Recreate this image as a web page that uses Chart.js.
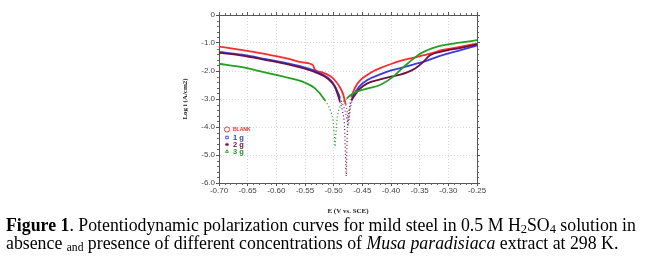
<!DOCTYPE html>
<html lang="en">

<head>
    <meta charset="UTF-8">
    <title>Figure 1</title>
    <script src="https://cdn.jsdelivr.net/npm/chart.js"></script>
</head>
<style>
    body {
        margin: 0;
        background: #ffffff;
        width: 663px;
        height: 265px;
        overflow: hidden;
        position: relative;
    }

    #box {
        position: absolute;
        left: 0;
        top: 0;
        width: 663px;
        height: 220px;
    }

    #caption {
        position: absolute;
        left: 6px;
        top: 216px;
        width: 660px;
        font-family: "Liberation Serif", "Times New Roman", serif;
        font-size: 17.8px;
        line-height: 18px;
        color: #000;
        white-space: nowrap;
    }

    #caption sub {
        font-size: 0.7em;
        vertical-align: -0.2em;
        line-height: 0;
    }

    #caption sub.word {
        font-size: 0.65em;
    }
</style>

<body>
    <div id="box"><canvas id="grafico"></canvas></div>
    <div id="caption"><b>Figure 1</b>. Potentiodynamic polarization curves for mild steel in 0.5 M H<sub>2</sub>SO<sub>4</sub> solution in<br>absence <sub class="word">and</sub> presence of different concentrations of <i>Musa paradisiaca</i> extract at 298 K.</div>
</body>

</html>

<script>
    // nomes das series (legenda)
    const series = ['BLANK', '1 g', '2 g', '3 g'];

    // BLANK - potencial (V vs SCE) e log i
    const blankE = [-0.70, -0.67, -0.64, -0.61, -0.58, -0.555, -0.536, -0.533, -0.52, -0.505, -0.498, -0.49, -0.484,
        -0.479, -0.476, -0.4745, -0.473, -0.472, -0.469, -0.466, -0.46, -0.452, -0.442, -0.43, -0.419, -0.40, -0.384,
        -0.36, -0.332, -0.31, -0.28, -0.25];
    const blankLog = [-1.13, -1.22, -1.32, -1.43, -1.56, -1.69, -1.79, -1.95, -2.05, -2.2, -2.33, -2.55, -2.8,
        -3.2, -3.5, -3.8, -3.6, -3.3, -2.95, -2.75, -2.5, -2.3, -2.15, -2.0, -1.9, -1.75, -1.64,
        -1.52, -1.38, -1.25, -1.14, -1.02];

    // 1 g
    const g1E = [-0.70, -0.66, -0.62, -0.58, -0.55, -0.53, -0.51, -0.498, -0.489, -0.482, -0.478, -0.476, -0.4745,
        -0.473, -0.471, -0.468, -0.466, -0.455, -0.442, -0.419, -0.40, -0.384, -0.36, -0.345, -0.3145, -0.28, -0.25];
    const g1Log = [-1.32, -1.42, -1.57, -1.73, -1.88, -2.02, -2.24, -2.53, -2.95, -3.3, -3.6, -3.85, -3.95,
        -3.7, -3.35, -3.05, -2.9, -2.55, -2.33, -2.12, -1.98, -1.9, -1.76, -1.68, -1.46, -1.26, -1.09];

    // 2 g
    const g2E = [-0.70, -0.66, -0.62, -0.58, -0.55, -0.5325, -0.51, -0.498, -0.489, -0.484, -0.481, -0.4795, -0.478,
        -0.4765, -0.475, -0.472, -0.469, -0.466, -0.455, -0.442, -0.419, -0.40, -0.384, -0.372, -0.358, -0.345,
        -0.332, -0.31, -0.28, -0.25];
    const g2Log = [-1.35, -1.45, -1.6, -1.76, -1.92, -2.04, -2.28, -2.57, -3.1, -3.5, -4.0, -4.95, -5.75,
        -4.4, -3.7, -3.3, -3.05, -2.95, -2.65, -2.45, -2.3, -2.2, -2.13, -2.05, -1.91, -1.7,
        -1.44, -1.3, -1.18, -1.05];

    // 3 g
    const g3E = [-0.70, -0.66, -0.62, -0.58, -0.55, -0.5325, -0.515, -0.506, -0.501, -0.499, -0.4975, -0.496,
        -0.494, -0.489, -0.477, -0.466, -0.442, -0.419, -0.396, -0.384, -0.372, -0.36, -0.349, -0.33, -0.3145,
        -0.28, -0.25];
    const g3Log = [-1.74, -1.86, -2.05, -2.24, -2.42, -2.62, -3.05, -3.4, -3.8, -4.3, -4.7, -4.2,
        -3.7, -3.28, -2.98, -2.8, -2.63, -2.5, -2.2, -1.97, -1.75, -1.55, -1.38, -1.2, -1.1,
        -0.99, -0.9];

    const cores = ['#ff2a2a', '#3a3ae6', '#6e1040', '#22a022'];
    const estilos = ['circle', 'rect', 'star', 'triangle'];

    function pontos(xs, ys) {
        return xs.map(function (v, i) { return { x: v, y: ys[i] }; });
    }

    function montarSerie(i, xs, ys, ordem) {
        return {
            label: series[i],
            data: pontos(xs, ys),
            showLine: true,
            borderColor: cores[i],
            backgroundColor: cores[i],
            borderWidth: 1.8,
            pointRadius: 0,
            cubicInterpolationMode: 'monotone',
            order: ordem,
            segment: {
                // perto do potencial de corrosao os pontos ficam espalhados
                borderDash: function (ctx) {
                    return (ctx.p0.parsed.y < -3.2 || ctx.p1.parsed.y < -3.2) ? [1, 2.5] : undefined;
                },
                borderWidth: function (ctx) {
                    return (ctx.p0.parsed.y < -3.2 || ctx.p1.parsed.y < -3.2) ? 1.2 : undefined;
                }
            }
        };
    }

    // marcas menores nos quatro lados + legenda dentro do grafico
    const extras = {
        id: 'extras',
        afterDraw: function (chart) {
            const ctx = chart.ctx;
            const a = chart.chartArea;
            const sx = chart.scales.x;
            const sy = chart.scales.y;
            ctx.save();
            ctx.strokeStyle = '#666';
            ctx.lineWidth = 1;
            ctx.beginPath();
            for (let i = 0; i <= 45; i++) {
                if (i % 5 === 0) continue;
                const px = Math.round(sx.getPixelForValue(-0.70 + i * 0.01)) + 0.5;
                ctx.moveTo(px, a.bottom); ctx.lineTo(px, a.bottom + 2);
                ctx.moveTo(px, a.top); ctx.lineTo(px, a.top - 2);
            }
            for (let j = 0; j <= 30; j++) {
                if (j % 5 === 0) continue;
                const py = Math.round(sy.getPixelForValue(-6 + j * 0.2)) + 0.5;
                ctx.moveTo(a.left, py); ctx.lineTo(a.left - 2, py);
                ctx.moveTo(a.right, py); ctx.lineTo(a.right + 2, py);
            }
            ctx.stroke();

            // legenda
            const lx = a.left + 8;
            const ly = [129.5, 137.5, 144.5, 151.5];
            for (let k = 0; k < series.length; k++) {
                ctx.strokeStyle = cores[k];
                ctx.fillStyle = 'rgba(0,0,0,0)';
                ctx.lineWidth = 0.9;
                Chart.helpers.drawPoint(ctx, {
                    pointStyle: estilos[k],
                    radius: k === 0 ? 2.6 : 1.8,
                    borderWidth: 0.9
                }, lx, ly[k]);
                ctx.fillStyle = cores[k];
                ctx.font = k === 0 ? 'bold 5px "Liberation Sans", Arial' : 'bold 7.5px "Liberation Sans", Arial';
                ctx.textBaseline = 'middle';
                ctx.fillText(series[k], lx + 6, ly[k] + 0.5);
            }
            ctx.restore();
        }
    };

    const fonteTick = { family: '"Liberation Sans", Arial', size: 8 };
    const fonteTitulo = { family: '"Liberation Serif", "Times New Roman", serif', size: 7, weight: 'bold' };

    const config = {
        type: 'scatter',
        data: {
            datasets: [
                montarSerie(0, blankE, blankLog, 3),
                montarSerie(1, g1E, g1Log, 2),
                montarSerie(2, g2E, g2Log, 1),
                montarSerie(3, g3E, g3Log, 0)
            ]
        },
        options: {
            responsive: true,
            maintainAspectRatio: false,
            animation: false,
            layout: { padding: { left: 181, right: 182, top: 11, bottom: 3 } },
            plugins: {
                legend: { display: false },
                tooltip: { enabled: false }
            },
            scales: {
                x: {
                    type: 'linear',
                    position: 'bottom',
                    min: -0.70,
                    max: -0.25,
                    afterFit: function (s) { s.height = 34; },
                    ticks: {
                        stepSize: 0.05,
                        padding: 0,
                        color: '#444',
                        font: fonteTick,
                        maxRotation: 0,
                        callback: function (v) { return v.toFixed(2); }
                    },
                    grid: { color: '#d8d8d8', tickLength: 3, tickColor: '#555' },
                    border: { color: '#555', dash: [1, 2] },
                    title: { display: true, text: 'E (V vs. SCE)', color: '#222', font: fonteTitulo, padding: { top: 0, bottom: 2 } }
                },
                y: {
                    type: 'linear',
                    position: 'left',
                    min: -6,
                    max: 0,
                    afterFit: function (s) { s.width = 38; },
                    ticks: {
                        stepSize: 1,
                        padding: 1,
                        color: '#444',
                        font: fonteTick,
                        callback: function (v) { return v === 0 ? '0' : v.toFixed(1); }
                    },
                    grid: { color: '#d8d8d8', tickLength: 3, tickColor: '#555' },
                    border: { color: '#555', dash: [1, 2] },
                    title: { display: true, text: 'Log i (A/cm2)', color: '#222', font: fonteTitulo, padding: 0 }
                },
                x2: {
                    type: 'linear',
                    position: 'top',
                    min: -0.70,
                    max: -0.25,
                    afterFit: function (s) { s.height = 4; },
                    ticks: { display: false, stepSize: 0.05 },
                    grid: { drawOnChartArea: false, tickLength: 3, tickColor: '#555' },
                    border: { color: '#555' }
                },
                y2: {
                    type: 'linear',
                    position: 'right',
                    min: -6,
                    max: 0,
                    afterFit: function (s) { s.width = 4; },
                    ticks: { display: false, stepSize: 1 },
                    grid: { drawOnChartArea: false, tickLength: 3, tickColor: '#555' },
                    border: { color: '#555' }
                }
            }
        },
        plugins: [extras]
    };

    new Chart(document.getElementById('grafico'), config);
</script>
